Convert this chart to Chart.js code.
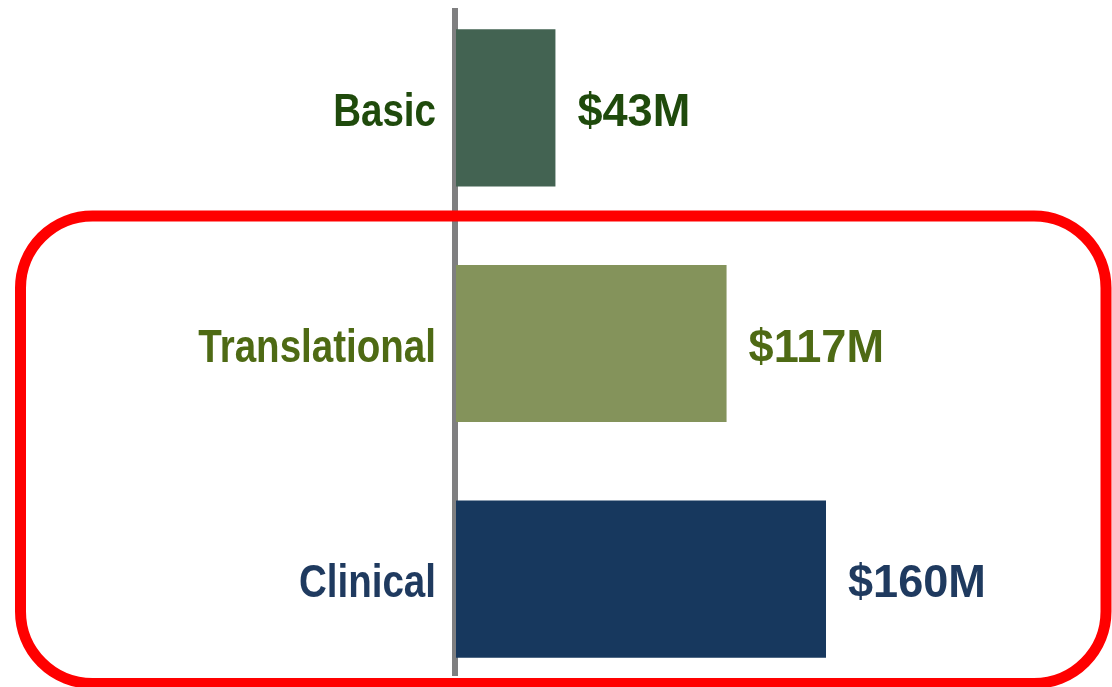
<!DOCTYPE html>
<html>
<head>
<meta charset="utf-8">
<script src="https://cdn.jsdelivr.net/npm/chart.js@4"></script>
<style>
  html, body { margin: 0; padding: 0; background: #fff; overflow: hidden; width: 1112px; height: 687px; }
  #wrap { position: absolute; left: 0; top: -10px; width: 1112px; height: 707px; }
</style>
</head>
<body>
<div id="wrap"><canvas id="c"></canvas></div>
<script>
const categories = ['Basic', 'Translational', 'Clinical'];
const fundingM = [43, 117, 160];
const valueLabels = ['$43M', '$117M', '$160M'];
const barColors = ['#436352', '#84935b', '#17385e'];
const textColors = ['#1f4a0c', '#4e6a14', '#1f3a5f'];

const FONT = "'Liberation Sans', Arial, sans-serif";
const OFFSET_Y = 10; // canvas is shifted up by 10px

function drawSquished(ctx, text, x, y, sx, align) {
  ctx.save();
  ctx.translate(x, y);
  ctx.scale(sx, 1);
  ctx.textAlign = align;
  ctx.fillText(text, 0, 0);
  ctx.restore();
}

const decor = {
  id: 'decor',
  beforeDatasetsDraw(chart) {
    const ctx = chart.ctx;
    const x0 = chart.scales.x.getPixelForValue(0);
    ctx.save();
    ctx.fillStyle = '#7f7f80';
    ctx.fillRect(x0 - 4, 8 + OFFSET_Y, 6, 668);
    ctx.restore();
  },
  afterDatasetsDraw(chart) {
    const ctx = chart.ctx;
    const meta = chart.getDatasetMeta(0);
    const yScale = chart.scales.y;
    const xLeft = chart.chartArea.left;
    ctx.save();
    ctx.font = 'bold 47px ' + FONT;
    ctx.textBaseline = 'alphabetic';
    meta.data.forEach((bar, i) => {
      const cy = yScale.getPixelForValue(i);
      ctx.fillStyle = textColors[i];
      drawSquished(ctx, yScale.getLabelForValue(i), xLeft - 20, cy + 18, 0.82, 'right');
      drawSquished(ctx, valueLabels[i], bar.x + 22, cy + 18, 0.96, 'left');
    });
    ctx.restore();
  },
  afterDraw(chart) {
    const ctx = chart.ctx;
    ctx.save();
    ctx.strokeStyle = '#ff0000';
    ctx.lineWidth = 11;
    ctx.beginPath();
    ctx.roundRect(20.5, 216 + OFFSET_Y, 1106 - 20.5, 683.5 - 216, 72);
    ctx.stroke();
    ctx.restore();
  }
};

new Chart(document.getElementById('c'), {
  type: 'bar',
  data: {
    labels: categories,
    datasets: [{
      data: fundingM,
      backgroundColor: barColors,
      borderWidth: 0,
      barPercentage: 1,
      categoryPercentage: 0.667
    }]
  },
  options: {
    indexAxis: 'y',
    responsive: true,
    maintainAspectRatio: false,
    animation: false,
    layout: { padding: { left: 456, right: 101, top: 0, bottom: 0 } },
    plugins: { legend: { display: false }, tooltip: { enabled: false } },
    scales: {
      x: { display: false, min: 0, max: 240 },
      y: { display: false }
    }
  },
  plugins: [decor]
});
</script>
</body>
</html>
